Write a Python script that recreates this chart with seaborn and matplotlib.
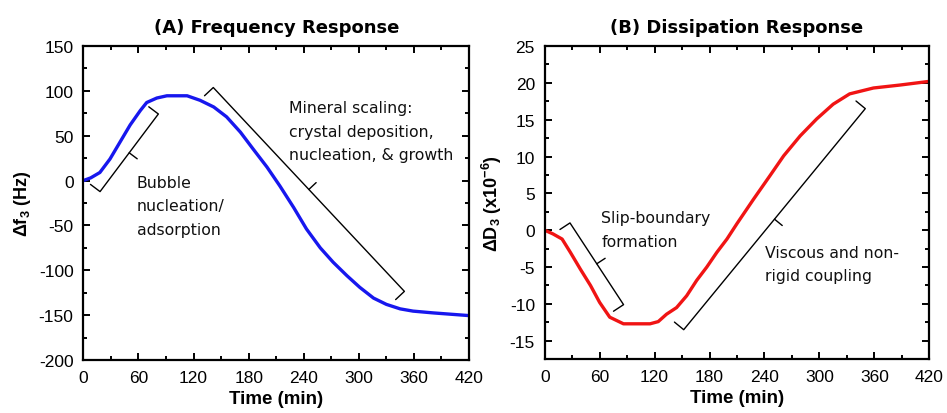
import numpy as np
import pandas as pd
import matplotlib
matplotlib.use("Agg")
import matplotlib.pyplot as plt
from matplotlib.ticker import MultipleLocator
import seaborn as sns

# ---------------- data ----------------
freq_time = [0, 8, 18, 29, 40, 51, 62, 69, 80, 91, 113, 127, 142, 156, 171, 185,
             200, 214, 229, 243, 258, 272, 287, 301, 316, 330, 345, 359, 381, 420]
freq_shift = [0, 3, 9, 24, 43, 62, 78, 87, 92, 94.5, 94.5, 89.5, 82, 71, 54, 35,
              15, -6, -30, -54, -75, -91, -106, -119, -131, -138, -143, -145.5,
              -147.5, -150.5]

diss_time = [0, 9, 19, 28, 39, 50, 60, 71, 86, 115, 124, 133, 144, 155, 166, 177,
             188, 199, 210, 228, 246, 261, 279, 297, 315, 333, 359, 388, 420]
diss_shift = [0, -0.5, -1.2, -3.0, -5.3, -7.5, -9.8, -11.8, -12.7, -12.7, -12.4,
              -11.4, -10.5, -8.9, -6.8, -5.0, -3.0, -1.2, 0.9, 4.2, 7.4, 10.1,
              12.8, 15.1, 17.1, 18.5, 19.3, 19.7, 20.2]

titles = ["(A) Frequency Response", "(B) Dissipation Response"]
xlabel = "Time (min)"
ylabels = [r"$\Delta$f$_\mathregular{3}$ (Hz)", r"$\Delta$D$_\mathregular{3}$ (x10$^\mathregular{-6}$)"]

# annotation brackets: (start point, end point, side)
freq_brackets = [((18.2, -12.3), (81.7, 74.2), 1), ((141.5, 103.7), (349.6, -123.5), -1)]
diss_brackets = [((27.6, 0.99), (86.1, -10.1), -1), ((151.8, -13.5), (350.1, 16.5), 1)]
freq_texts = [(58, -28, "Bubble\nnucleation/\nadsorption"),
              (224, 55, "Mineral scaling:\ncrystal deposition,\nnucleation, & growth")]
diss_texts = [(61.8, 0.1, "Slip-boundary\nformation"),
              (240.9, -4.6, "Viscous and non-\nrigid coupling")]

# ---------------- style ----------------
sns.set_style("ticks")
plt.rcParams["font.family"] = ["Liberation Sans", "DejaVu Sans"]
plt.rcParams["axes.unicode_minus"] = False
plt.rcParams["text.color"] = "black"
plt.rcParams["axes.labelcolor"] = "black"
plt.rcParams["xtick.color"] = "black"
plt.rcParams["ytick.color"] = "black"
plt.rcParams["mathtext.fontset"] = "custom"
plt.rcParams["mathtext.rm"] = "Liberation Sans:bold"
plt.rcParams["mathtext.it"] = "Liberation Sans:bold"
plt.rcParams["mathtext.bf"] = "Liberation Sans:bold"

fig = plt.figure(figsize=(9.47, 4.14), dpi=100)
axA = fig.add_axes([0.088, 0.128, 0.4073, 0.7585])
axB = fig.add_axes([0.5752, 0.130, 0.4061, 0.7565])

dfA = pd.DataFrame({"t": freq_time, "v": freq_shift})
dfB = pd.DataFrame({"t": diss_time, "v": diss_shift})
sns.lineplot(data=dfA, x="t", y="v", ax=axA, color="#1717ee", lw=2.4)
sns.lineplot(data=dfB, x="t", y="v", ax=axB, color="#f01414", lw=2.4)

annot_font = "DejaVu Sans"

def style_axes(ax, ylim, ymaj, ymin, title, ylabel):
    ax.set_xlim(0, 420)
    ax.set_ylim(*ylim)
    ax.xaxis.set_major_locator(MultipleLocator(60))
    ax.xaxis.set_minor_locator(MultipleLocator(30))
    ax.yaxis.set_major_locator(MultipleLocator(ymaj))
    ax.yaxis.set_minor_locator(MultipleLocator(ymin))
    ax.tick_params(which="both", direction="in", top=True, right=True,
                   width=1.4, color="black", labelcolor="black")
    ax.tick_params(which="major", length=5, labelsize=12.5, pad=7)
    ax.tick_params(which="minor", length=3)
    ax.tick_params(axis="x", which="major", pad=7)
    for s in ax.spines.values():
        s.set_visible(True)
        s.set_linewidth(1.6)
        s.set_color("black")
    ax.set_xlabel(xlabel, fontsize=13.5, fontweight="bold", labelpad=4, color="black")
    ax.set_ylabel(ylabel, fontsize=13, fontweight="bold", labelpad=4, color="black")
    ax.set_title(title, fontsize=13, fontweight="bold", family=annot_font, pad=10,
                 color="black")

style_axes(axA, (-200, 150), 50, 25, titles[0], ylabels[0])
style_axes(axB, (-17.5, 25), 5, 2.5, titles[1], ylabels[1])


def bracket(ax, p0, p1, side, hook=12, tick=10):
    tr = ax.transData
    d0 = tr.transform(p0)
    d1 = tr.transform(p1)
    u = (d1 - d0) / np.hypot(*(d1 - d0))
    n = np.array([-u[1], u[0]]) * side
    mid = (d0 + d1) / 2
    pts = np.array([d0 + n * hook, d0, d1, d1 + n * hook])
    tk = np.array([mid, mid - n * tick])
    inv = tr.inverted()
    pts = inv.transform(pts)
    tk = inv.transform(tk)
    ax.plot(pts[:, 0], pts[:, 1], color="black", lw=1.0)
    ax.plot(tk[:, 0], tk[:, 1], color="black", lw=1.0)


for ax, brs, txts in [(axA, freq_brackets, freq_texts), (axB, diss_brackets, diss_texts)]:
    for p0, p1, side in brs:
        bracket(ax, p0, p1, side)
    for x, y, s in txts:
        ax.text(x, y, s, fontsize=11.3, family=annot_font, ha="left", va="center",
                linespacing=1.7, color="#111111")

fig.savefig("out.png", dpi=100)
